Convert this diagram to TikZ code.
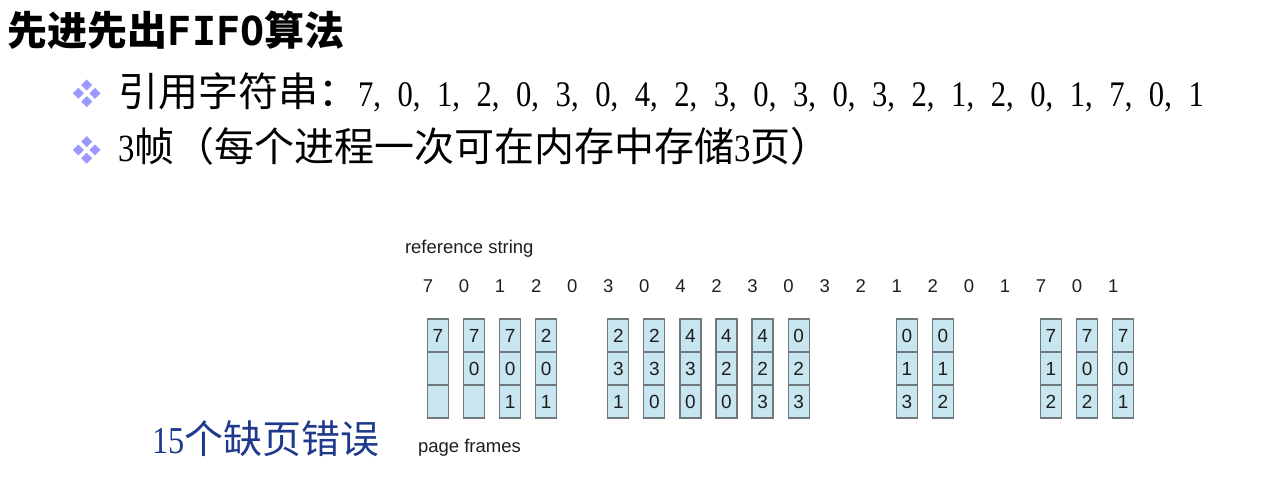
\documentclass[tikz,border=0pt]{standalone}
\usepackage{fontspec}
\setmainfont{Liberation Serif}
\newfontfamily\cjk{Noto Sans CJK SC}
\newfontfamily\monob{DejaVu Sans Mono}
\newfontfamily\digs{Liberation Serif}[FakeStretch=0.85]
\newfontfamily\diagsans{Liberation Sans}
\definecolor{bulletc}{HTML}{9999FF}
\definecolor{navyc}{HTML}{1F3A8C}
\definecolor{cellfill}{HTML}{C8E6F0}
\definecolor{celldraw}{HTML}{6E787D}
\definecolor{diagtext}{HTML}{1E1E1E}
\tikzset{
  txt/.style={inner sep=0pt, outer sep=0pt},
  refdig/.style={inner sep=0pt, anchor=base, font=\diagsans\fontsize{18.5}{20}\selectfont, text=diagtext},
  cell/.style={draw=celldraw, line width=1.2pt, fill=cellfill, minimum width=21pt, minimum height=33pt, inner sep=0pt,
    font=\diagsans\fontsize{19}{20}\selectfont, text=diagtext},
  gem/.style={fill=bulletc, draw=none}
}
\begin{document}
\begin{tikzpicture}[x=1pt,y=-1pt]
\useasboundingbox (0,0) rectangle (1262,497);

% title
\node[txt, anchor=base west] (title) at (8,46)
  {\cjk\bfseries\fontsize{40}{44}\selectfont 先进先出{\monob\bfseries FIFO}算法};

% bullets
\foreach \by [count=\n] in {93.3,150} {
  \coordinate (b\n) at (86.7,\by);
  \foreach \dx/\dy in {0/-8.3, -8.3/0, 8.3/0, 0/8.3}
    \fill[gem] ([shift={(\dx,\dy)}]b\n) ++(0,-5.5) -- ++(5.5,5.5) -- ++(-5.5,5.5) -- ++(-5.5,-5.5) -- cycle;
}

% line 1
\node[txt, anchor=base west] (line1) at (118,107)
  {\cjk\fontsize{40}{42}\selectfont 引用字符串：{\digs\fontsize{36}{40}\selectfont\spaceskip=16.6pt\relax 7, 0, 1, 2, 0, 3, 0, 4, 2, 3, 0, 3, 0, 3, 2, 1, 2, 0, 1, 7, 0, 1}};

% line 2
\node[txt, anchor=base west] (line2) at (118,162)
  {\cjk\fontsize{40}{42}\selectfont {\digs\fontsize{38.5}{42}\selectfont 3}帧（每个进程一次可在内存中存储{\digs\fontsize{38.5}{42}\selectfont 3}页）};

% faults
\node[txt, anchor=base west, text=navyc] (faults) at (152,453)
  {\cjk\fontsize{39}{42}\selectfont {\digs\fontsize{38}{42}\selectfont 15}个缺页错误};

% diagram labels
\node[txt, anchor=base west, font=\diagsans\fontsize{18.5}{20}\selectfont, text=diagtext] (reflabel) at (405,254) {reference string};
\node[txt, anchor=base west, font=\diagsans\fontsize{18.5}{20}\selectfont, text=diagtext] (pflabel) at (418,452) {page frames};

% reference string row
\foreach \v [count=\k from 0] in {7,0,1,2,0,3,0,4,2,3,0,3,2,1,2,0,1,7,0,1}
  \node[refdig] (r\k) at ({428+36.06*\k},293) {\v};

% frames
\foreach \i/\a/\b/\c in {0/7/{}/{}, 1/7/0/{}, 2/7/0/1, 3/2/0/1, 5/2/3/1, 6/2/3/0, 7/4/3/0, 8/4/2/0, 9/4/2/3, 10/0/2/3, 13/0/1/3, 14/0/1/2, 17/7/1/2, 18/7/0/2, 19/7/0/1} {
  \node[cell] (f\i-1) at ({438+36.06*\i},335.5) {\a};
  \node[cell] (f\i-2) at ({438+36.06*\i},368.5) {\b};
  \node[cell] (f\i-3) at ({438+36.06*\i},401.5) {\c};
}
\end{tikzpicture}
\end{document}
